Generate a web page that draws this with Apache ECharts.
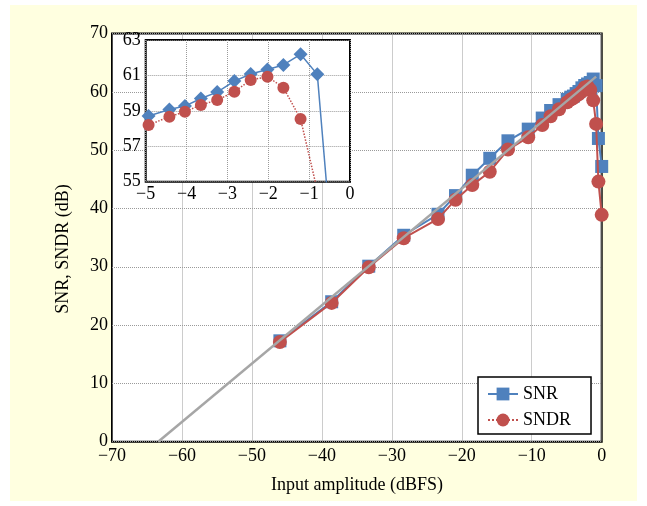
<!DOCTYPE html>
<html>
<head>
<meta charset="utf-8">
<script src="https://cdn.jsdelivr.net/npm/echarts@6/dist/echarts.min.js"></script>
<style>
html,body{margin:0;padding:0;background:#fff;}
#wrap{position:relative;width:647px;height:506px;background:#fff;overflow:hidden;}
#bg{position:absolute;left:10px;top:5px;width:627px;height:496px;background:#FFFFE0;}
#chart{position:absolute;left:0;top:0;width:647px;height:506px;}
</style>
</head>
<body>
<div id="wrap"><div id="bg"></div><div id="chart"></div></div>
<script>
// Input amplitude (dBFS)
const xVals = [-46, -38.6, -33.3, -28.3, -23.4, -20.9, -18.5, -16.0, -13.4, -10.5, -8.5, -7.3, -6.1,
  -4.93, -4.42, -4.04, -3.65, -3.25, -2.83, -2.43, -2.02, -1.63, -1.21, -0.80, -0.47, 0];
const snr = [17.3, 24.0, 30.1, 35.4, 39.0, 42.2, 45.7, 48.6, 51.6, 53.6, 55.5, 56.8, 57.8,
  58.71, 59.08, 59.27, 59.70, 60.06, 60.68, 61.08, 61.34, 61.59, 62.19, 61.06, 52.0, 47.2];
const sndr = [17.1, 23.8, 29.9, 34.9, 38.2, 41.5, 44.0, 46.3, 50.1, 52.2, 54.3, 55.8, 57.0,
  58.20, 58.67, 58.95, 59.33, 59.61, 60.08, 60.74, 60.93, 60.31, 58.54, 54.5, 44.6, 38.9];
// Ideal reference line
const idealX = [-63.4, -0.8];
const idealY = [0, 62.6];
const seriesNames = ['SNR', 'SNDR'];
const xLabel = 'Input amplitude (dBFS)';
const yLabel = 'SNR, SNDR (dB)';

const FONT = 'Liberation Serif';
const BLUE = '#4F81BD';
const RED = '#C0504D';
const fmt = v => String(v).replace('-', '\u2212');
const pairs = (xs, ys) => xs.map((x, i) => [x, ys[i]]);

const chart = echarts.init(document.getElementById('chart'), null, {renderer: 'canvas'});

const splitStyle = {show: true, lineStyle: {color: '#9a9a9a', type: 'dotted', width: 1}};
const lab = {color: '#000', fontFamily: FONT, fontSize: 18, formatter: fmt};

chart.setOption({
  backgroundColor: 'transparent',
  animation: false,
  grid: [
    {left: 112, top: 33.5, right: 45.3, bottom: 64.3, show: true, backgroundColor: '#fff',
     borderColor: '#000', borderWidth: 2},
    {left: 145.7, top: 40, width: 204.3, height: 141.7, show: true, backgroundColor: '#fff',
     borderColor: '#000', borderWidth: 2, z: 5}
  ],
  xAxis: [
    {type: 'value', gridIndex: 0, min: -70, max: 0, interval: 10,
     axisLine: {show: false}, axisTick: {show: false},
     axisLabel: Object.assign({margin: 6}, lab), splitLine: splitStyle},
    {type: 'value', gridIndex: 1, min: -5, max: 0, interval: 1, z: 6,
     axisLine: {show: false}, axisTick: {show: false},
     axisLabel: Object.assign({margin: 4}, lab), splitLine: splitStyle}
  ],
  yAxis: [
    {type: 'value', gridIndex: 0, min: 0, max: 70, interval: 10,
     axisLine: {show: false}, axisTick: {show: false},
     axisLabel: Object.assign({margin: 4}, lab), splitLine: splitStyle},
    {type: 'value', gridIndex: 1, min: 55, max: 63, interval: 2, z: 6,
     axisLine: {show: false}, axisTick: {show: false},
     axisLabel: Object.assign({margin: 5}, lab), splitLine: splitStyle}
  ],
  legend: {
    orient: 'vertical', left: 478, top: 377,
    padding: [8, 20, 5, 9], itemGap: 8, itemWidth: 30, itemHeight: 16,
    backgroundColor: '#fff', borderColor: '#000', borderWidth: 1.5, borderRadius: 0,
    textStyle: {color: '#000', fontFamily: FONT, fontSize: 18},
    data: [
      {name: seriesNames[0]},
      {name: seriesNames[1], lineStyle: {type: 'dotted', width: 2}}
    ],
    selectedMode: false, z: 10
  },
  graphic: [
    {type: 'text', left: 'center', x: 0, z: 10,
     style: {text: yLabel, x: 63, y: 249, font: '18px "' + FONT + '"', fill: '#000', align: 'center', verticalAlign: 'middle'},
     rotation: Math.PI / 2, originX: 63, originY: 249, left: null},
    {type: 'text', z: 10,
     style: {text: xLabel, x: 357, y: 485, font: '18px "' + FONT + '"', fill: '#000', align: 'center', verticalAlign: 'middle'}}
  ],
  series: [
    {name: seriesNames[0], type: 'line', xAxisIndex: 0, yAxisIndex: 0, data: pairs(xVals, snr),
     symbol: 'rect', symbolSize: 13, itemStyle: {color: BLUE},
     lineStyle: {color: BLUE, width: 2}, z: 3},
    {name: seriesNames[1], type: 'line', xAxisIndex: 0, yAxisIndex: 0, data: pairs(xVals, sndr),
     symbol: 'circle', symbolSize: 14, itemStyle: {color: RED},
     lineStyle: {color: RED, width: 2}, z: 4},
    {name: 'ideal', type: 'line', xAxisIndex: 0, yAxisIndex: 0, data: pairs(idealX, idealY),
     symbol: 'none', lineStyle: {color: '#A6A6A6', width: 2.5}, z: 5},
    {name: 'SNR inset', type: 'line', xAxisIndex: 1, yAxisIndex: 1, data: pairs(xVals, snr),
     symbol: 'diamond', symbolSize: 14, itemStyle: {color: BLUE},
     lineStyle: {color: BLUE, width: 1.5}, clip: true, z: 8},
    {name: 'SNDR inset', type: 'line', xAxisIndex: 1, yAxisIndex: 1, data: pairs(xVals, sndr),
     symbol: 'circle', symbolSize: 12, itemStyle: {color: RED},
     lineStyle: {color: RED, width: 1.5, type: 'dotted'}, clip: true, z: 8}
  ]
});
</script>
</body>
</html>
